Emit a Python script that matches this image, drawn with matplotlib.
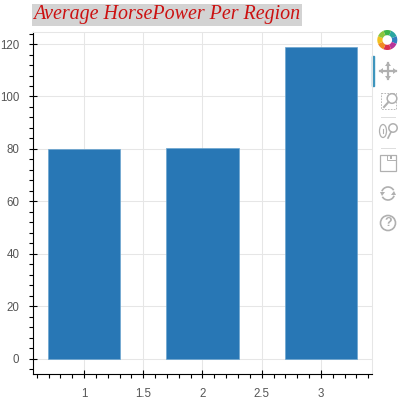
import matplotlib
matplotlib.use("Agg")
import matplotlib.pyplot as plt
from matplotlib.patches import Wedge, Circle, Rectangle, Arc, Ellipse, Polygon
from matplotlib.ticker import MultipleLocator, FixedLocator

W, H = 414, 405

regions = [1, 2, 3]
avg_hp = [80, 80.5, 119]
bar_width = 0.61
title = "Average HorsePower Per Region"
x_ticks = [1, 1.5, 2, 2.5, 3]
x_labels = ["1", "1.5", "2", "2.5", "3"]
y_ticks = [0, 20, 40, 60, 80, 100, 120]

fig = plt.figure(figsize=(W / 100, H / 100), dpi=100)
plt.rcParams["font.family"] = ["Liberation Sans", "DejaVu Sans"]


def px_axes(left, top, right, bottom):
    return fig.add_axes([left / W, 1 - bottom / H, (right - left) / W, (bottom - top) / H])


ax = px_axes(33, 31.5, 372, 374)
ax.bar(regions, avg_hp, width=bar_width, color="#2877b5", edgecolor="#6ba5cf", linewidth=0.5, zorder=3)
ax.set_xlim(0.568, 3.432)
ax.set_ylim(-5.9, 124.8)

ax.xaxis.set_major_locator(FixedLocator(x_ticks))
ax.set_xticklabels(x_labels)
ax.xaxis.set_minor_locator(MultipleLocator(0.1))
ax.yaxis.set_major_locator(FixedLocator(y_ticks))
ax.yaxis.set_minor_locator(MultipleLocator(4))
ax.grid(True, which="major", color="#e6e6e6", linewidth=0.75, zorder=0)
ax.set_axisbelow(True)

for side in ["top", "right"]:
    ax.spines[side].set_color("#e6e6e6")
    ax.spines[side].set_linewidth(0.75)
for side in ["left", "bottom"]:
    ax.spines[side].set_color("black")
    ax.spines[side].set_linewidth(0.8)
ax.tick_params(which="major", direction="inout", length=5.5, width=0.8, labelsize=8.3,
               labelcolor="#555555", pad=7)
ax.tick_params(which="minor", direction="out", length=3, width=0.8)

fig.text(33.5 / W, 1 - 15 / H, title, family="Liberation Serif", style="italic", color="#cc1111",
         fontsize=14.4, ha="left", va="center",
         bbox=dict(facecolor="#d3d3d3", edgecolor="none", pad=1))

# toolbar, drawn in pixel coordinates
tb = fig.add_axes([0, 0, 1, 1], facecolor="none")
tb.set_xlim(0, W)
tb.set_ylim(H, 0)
tb.axis("off")
gray = "#b0b0b0"

tb.add_patch(Rectangle((372.2, 56), 2, 30, color="#3d95bd"))

logo = ["#3cb54a", "#2aa6a0", "#2f7fc0", "#b8359a", "#d9304f", "#f08a24", "#f2c01e", "#8cc63f"]
for i, c in enumerate(logo):
    a = -112.5 + i * 45
    tb.add_patch(Wedge((387.3, 40), 10, a, a + 45, width=5.2, color=c, lw=0))

# pan
tb.plot([388, 388], [63, 79], color=gray, lw=1.6)
tb.plot([380, 396], [71, 71], color=gray, lw=1.6)
for p in [[(388, 62), (385, 66), (391, 66)], [(388, 80), (385, 76), (391, 76)],
          [(379, 71), (383, 68), (383, 74)], [(397, 71), (393, 68), (393, 74)]]:
    tb.add_patch(Polygon(p, color=gray, lw=0))

# box zoom
tb.add_patch(Rectangle((381, 93), 15.5, 15.5, fill=False, ec=gray, lw=0.6, ls=(0, (2, 1.5))))
tb.add_patch(Circle((392, 98.5), 4.8, fc="white", ec=gray, lw=1.1))
tb.plot([388.5, 384], [102, 107], color=gray, lw=1.5)

# wheel zoom
tb.add_patch(Ellipse((383, 131), 7, 13, fill=False, ec=gray, lw=0.9))
tb.plot([383, 383], [129, 133], color=gray, lw=0.8)
tb.add_patch(Circle((393, 128), 4.2, fill=False, ec=gray, lw=1.1))
tb.plot([391, 388], [132, 138], color=gray, lw=1.2)

# separators
tb.plot([381, 395], [116.5, 116.5], color="#dddddd", lw=0.7)
tb.plot([381, 395], [147.5, 147.5], color="#dddddd", lw=0.7)
tb.plot([372.5, 372.5], [31, 240], color="#e6e6e6", lw=0.7)

# save
tb.add_patch(Rectangle((380.5, 155), 16, 16, fill=False, ec=gray, lw=0.9))
tb.add_patch(Rectangle((387, 155), 9, 5, fill=False, ec=gray, lw=0.7))
tb.add_patch(Rectangle((390, 156), 2, 2.5, color=gray, lw=0))

# reset
tb.add_patch(Arc((388, 193.5), 13, 13, theta1=20, theta2=150, ec=gray, lw=1.2))
tb.add_patch(Arc((388, 193.5), 13, 13, theta1=200, theta2=330, ec=gray, lw=1.2))
tb.add_patch(Polygon([(380, 192), (385, 192), (382, 196)], color=gray, lw=0))
tb.add_patch(Polygon([(391, 195), (396, 195), (394, 191)], color=gray, lw=0))

# help
tb.add_patch(Circle((388, 223), 7.5, fill=False, ec=gray, lw=1.2))
tb.text(388, 223.5, "?", color=gray, fontsize=9, fontweight="bold", ha="center", va="center")

fig.savefig("out.png", dpi=100)
